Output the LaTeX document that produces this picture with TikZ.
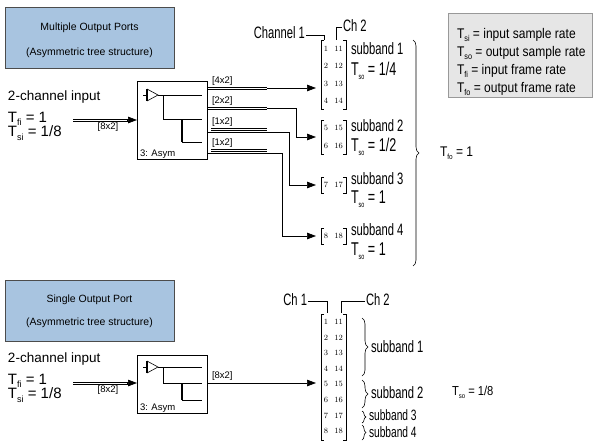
\documentclass[tikz,border=0pt]{standalone}
\usepackage{fontspec}
\usetikzlibrary{arrows.meta,decorations.pathreplacing}
\newfontfamily\hel{Liberation Sans}
\newfontfamily\nar[FakeStretch=0.86]{Liberation Sans}
\newfontfamily\cond[FakeStretch=0.68]{Liberation Sans}
\definecolor{titlefill}{HTML}{A8C4E0}
\definecolor{legfill}{HTML}{E6E6E6}
\newcommand\Tsb[2]{T\raisebox{-0.45ex}{\fontsize{#1}{#1}\selectfont #2}}
\begin{document}
\begin{tikzpicture}[x=1pt,y=-1pt,
  every node/.style={inner sep=0pt,outer sep=0pt},
  titlebox/.style={draw=black!70,fill=titlefill,line width=0.8pt,minimum width=169pt,minimum height=61pt,anchor=north west},
  legbox/.style={draw=black!40,fill=legfill,line width=0.8pt,anchor=north west},
  ttl/.style={font=\hel\fontsize{10.5}{10.5}\selectfont},
  lbl/.style={font=\hel\fontsize{13.5}{13.5}\selectfont,anchor=west},
  rate/.style={font=\hel\fontsize{15}{15}\selectfont,anchor=west},
  legt/.style={font=\nar\fontsize{14}{14}\selectfont,anchor=west},
  blk/.style={draw,line width=0.8pt,anchor=north west,minimum width=70pt},
  blklbl/.style={font=\hel\fontsize{9.5}{9.5}\selectfont,anchor=south west},
  dimlbl/.style={font=\hel\fontsize{9.5}{9.5}\selectfont},
  ln/.style={draw,line width=0.6pt},
  sig/.style={draw,line width=0.7pt,-{Triangle[length=9pt,width=6.5pt]},shorten >=5pt},
  tip/.style={draw,line width=0.7pt,-{Triangle[length=9pt,width=6.5pt]}},
  mat/.style={anchor=north west,minimum width=25pt},
  brk/.style={draw,line width=0.6pt},
  dig/.style={font=\fontsize{8}{8}\selectfont},
  cnd/.style={font=\cond\fontsize{16.5}{16.5}\selectfont},
  cndS/.style={font=\cond\fontsize{15}{15}\selectfont,anchor=west},
  cndT/.style={font=\cond\fontsize{18.5}{18.5}\selectfont,anchor=west},
  brc/.style={draw,line width=0.6pt,decorate,decoration={brace,amplitude=6pt}},
  lead/.style={draw,line width=0.6pt}
]
\useasboundingbox (0,0) rectangle (597,447);

% ================= TOP: multiple output ports =================
\node[titlebox] (tb1) at (5,7) {};
\node[ttl] (tb1a) at (89.5,28) {Multiple Output Ports};
\node[ttl] (tb1b) at (89.5,53) {(Asymmetric tree structure)};

\node[lbl] (in1t) at (8,97) {2-channel input};
\node[rate] (in1f) at (8,119) {\Tsb{9}{fi} = 1};
\node[rate] (in1s) at (8,133) {\Tsb{9}{si} = 1/8};

% block
\node[blk,minimum height=78pt] (blk1) at (137,81) {};
\node[blklbl] (blk1l) at (140,158) {3: Asym};
\draw[line width=0.6pt] (143,95) -- (147,95);
\draw[line width=1.2pt] (147,89) -- (147,101);
\draw[line width=0.6pt] (147,89) -- (158,95) -- (147,101);
\draw[line width=0.7pt] (158,95) -- (202,95);
\draw[line width=0.7pt] (163,95) |- (202,119);
\draw[line width=1.8pt] (182,119) -- (182,142);
\draw[line width=0.7pt] (182,142) -- (202,142);

% input
\coordinate (in1) at (73,120);
\coordinate (in1e) at (blk1.west |- in1);
\draw[ln] ([yshift=1.2pt]in1) -- ([yshift=1.2pt,xshift=-7pt]in1e)
          ([yshift=-1.2pt]in1) -- ([yshift=-1.2pt,xshift=-7pt]in1e);
\draw[tip] ([xshift=-10pt]in1e) -- (in1e);
\node[dimlbl,anchor=north] (in1d) at (108,123) {[8x2]};

% matrices
\node[mat,minimum height=69pt] (m1) at (321,40) {};
\node[mat,minimum height=34pt] (m2) at (321,120) {};
\node[mat,minimum height=16pt] (m3) at (321,177) {};
\node[mat,minimum height=16pt] (m4) at (321,228) {};
\foreach \r/\yy in {1/48.5,2/66,3/83.5,4/101} {
  \node[dig] (m1a\r) at (326,\yy) {\r};
  \node[dig] (m1b\r) at (338.5,\yy) {1\r};
}
\foreach \r/\yy in {5/128,6/146} {
  \node[dig] (m2a\r) at (326,\yy) {\r};
  \node[dig] (m2b\r) at (338.5,\yy) {1\r};
}
\node[dig] (m3a) at (326,185) {7};
\node[dig] (m3b) at (338.5,185) {17};
\node[dig] (m4a) at (326,236) {8};
\node[dig] (m4b) at (338.5,236) {18};

% outputs
\coordinate (o1) at (207,88);  \coordinate (e1) at (267,88);
\coordinate (o2) at (207,108); \coordinate (e2) at (267,108); \coordinate (b2) at (296,137);
\coordinate (o3) at (211,129); \coordinate (e3) at (267,129);
\coordinate (s3) at (207,132); \coordinate (b3) at (289,185);
\coordinate (o4) at (211,150); \coordinate (e4) at (267,150);
\coordinate (s4) at (207,153); \coordinate (b4) at (282,236);
\foreach \o/\e in {o1/e1,o2/e2,o3/e3,o4/e4} {
  \draw[ln] ([yshift=1.2pt]\o) -- ([yshift=1.2pt]\e) ([yshift=-1.2pt]\o) -- ([yshift=-1.2pt]\e);
}
\draw[sig] (e1) -- (m1.west |- e1);
\draw[sig] (e2) -| (b2) -- (m2.west);
\draw[sig] (s3) -| (b3) -- (m3.west);
\draw[sig] (s4) -| (b4) -- (m4.west);
\node[dimlbl,anchor=south west] (d1) at (212,85.5) {[4x2]};
\node[dimlbl,anchor=south west] (d2) at (212,105.5) {[2x2]};
\node[dimlbl,anchor=south west] (d3) at (212,126.5) {[1x2]};
\node[dimlbl,anchor=south west] (d4) at (212,147.5) {[1x2]};

% channel labels
\node[cnd,anchor=east] (ch1) at (305,33) {Channel 1};
\coordinate (c1) at (324,40);
\draw[lead] ([shift={(1,2)}]ch1.east) -| (c1);
\node[cnd,anchor=west] (ch2) at (343,26) {Ch 2};
\coordinate (c2) at (336,40);
\draw[lead] ([shift={(-1,1)}]ch2.west) -| (c2);

% subband labels
\node[cnd,anchor=west] (sb1) at (351,49) {subband 1};
\node[cndT] (so1) at (351,71) {\Tsb{8}{so} = 1/4};
\node[cnd,anchor=west] (sb2) at (351,126) {subband 2};
\node[cndT] (so2) at (351,147) {\Tsb{8}{so} = 1/2};
\node[cnd,anchor=west] (sb3) at (351,178.5) {subband 3};
\node[cndT] (so3) at (351,199) {\Tsb{8}{so} = 1};
\node[cnd,anchor=west] (sb4) at (351,230) {subband 4};
\node[cndT] (so4) at (351,251) {\Tsb{8}{so} = 1};

% big brace
\coordinate (bt) at (413,40); \coordinate (bb) at (413,266);
\draw[brc] (bt) -- (bb);
\node[font=\nar\fontsize{14}{14}\selectfont,anchor=west] (tfo) at (440,153) {\Tsb{7.5}{fo} = 1};

% legend
\node[legbox,minimum width=144pt,minimum height=84pt] (leg) at (448,13) {};
\node[legt] (lg1) at (457,35) {\Tsb{8.5}{si} = input sample rate};
\node[legt] (lg2) at (457,53) {\Tsb{8.5}{so} = output sample rate};
\node[legt] (lg3) at (457,71) {\Tsb{8.5}{fi} = input frame rate};
\node[legt] (lg4) at (457,89) {\Tsb{8.5}{fo} = output frame rate};

% ================= BOTTOM: single output port =================
\node[titlebox] (tb2) at (5,280) {};
\node[ttl] (tb2a) at (89.5,300) {Single Output Port};
\node[ttl] (tb2b) at (89.5,323) {(Asymmetric tree structure)};

\node[lbl] (in2t) at (8,359) {2-channel input};
\node[rate] (in2f) at (8,381) {\Tsb{9}{fi} = 1};
\node[rate] (in2s) at (8,395) {\Tsb{9}{si} = 1/8};

\node[blk,minimum height=58pt] (blk2) at (137,355) {};
\node[blklbl] (blk2l) at (140,412) {3: Asym};
\draw[line width=0.6pt] (143,367) -- (147,367);
\draw[line width=1.2pt] (147,361) -- (147,373);
\draw[line width=0.6pt] (147,361) -- (158,367) -- (147,373);
\draw[line width=0.7pt] (158,367) -- (202,367);
\draw[line width=0.7pt] (163,367) |- (202,383);
\draw[line width=1.8pt] (182,383) -- (182,400);
\draw[line width=0.7pt] (182,400) -- (202,400);

\coordinate (in2) at (73,383);
\coordinate (in2e) at (blk2.west |- in2);
\draw[ln] ([yshift=1.2pt]in2) -- ([yshift=1.2pt,xshift=-7pt]in2e)
          ([yshift=-1.2pt]in2) -- ([yshift=-1.2pt,xshift=-7pt]in2e);
\draw[tip] ([xshift=-10pt]in2e) -- (in2e);
\node[dimlbl,anchor=north] (in2d) at (108,386) {[8x2]};

\node[mat,minimum height=126pt] (m5) at (321,314) {};
\foreach \r in {1,...,8} {
  \pgfmathsetmacro{\yy}{322+15.6*(\r-1)}
  \node[dig] (m5a\r) at (326,\yy) {\r};
  \node[dig] (m5b\r) at (338.5,\yy) {1\r};
}
\coordinate (o5) at (207,383);
\draw[sig] (o5) -- (m5.west |- o5);
\node[dimlbl,anchor=south west] (d5) at (212,380) {[8x2]};

\node[cnd,anchor=east] (ch1b) at (307,300) {Ch 1};
\coordinate (c3) at (327,313);
\draw[lead] ([shift={(1,1)}]ch1b.east) -| (c3);
\node[cnd,anchor=west] (ch2b) at (366,300) {Ch 2};
\coordinate (c4) at (341,313);
\draw[lead] ([shift={(-1,1)}]ch2b.west) -| (c4);

\coordinate (k1t) at (362,318); \coordinate (k1b) at (362,376);
\coordinate (k2t) at (362,380); \coordinate (k2b) at (362,408);
\coordinate (k3t) at (362,411); \coordinate (k3b) at (362,423);
\coordinate (k4t) at (362,425); \coordinate (k4b) at (362,440);
\draw[brc] (k1t) -- (k1b);
\draw[brc] (k2t) -- (k2b);
\draw[brc,decoration={brace,amplitude=4pt}] (k3t) -- (k3b);
\draw[brc,decoration={brace,amplitude=4pt}] (k4t) -- (k4b);
\node[cnd,anchor=west] (sb5) at (371,347) {subband 1};
\node[cnd,anchor=west] (sb6) at (371,393) {subband 2};
\node[cndS] (sb7) at (369,415.5) {subband 3};
\node[cndS] (sb8) at (369,432) {subband 4};
\node[font=\nar\fontsize{13}{13}\selectfont,anchor=west] (tso) at (452,392) {\Tsb{7}{so} = 1/8};

% matrix brackets
\foreach \m in {m1,m2,m3,m4,m5} {
  \draw[brk] ([xshift=3pt]\m.north west) -- (\m.north west) -- (\m.south west) -- ([xshift=3pt]\m.south west);
  \draw[brk] ([xshift=-3pt]\m.north east) -- (\m.north east) -- (\m.south east) -- ([xshift=-3pt]\m.south east);
}
\end{tikzpicture}
\end{document}
